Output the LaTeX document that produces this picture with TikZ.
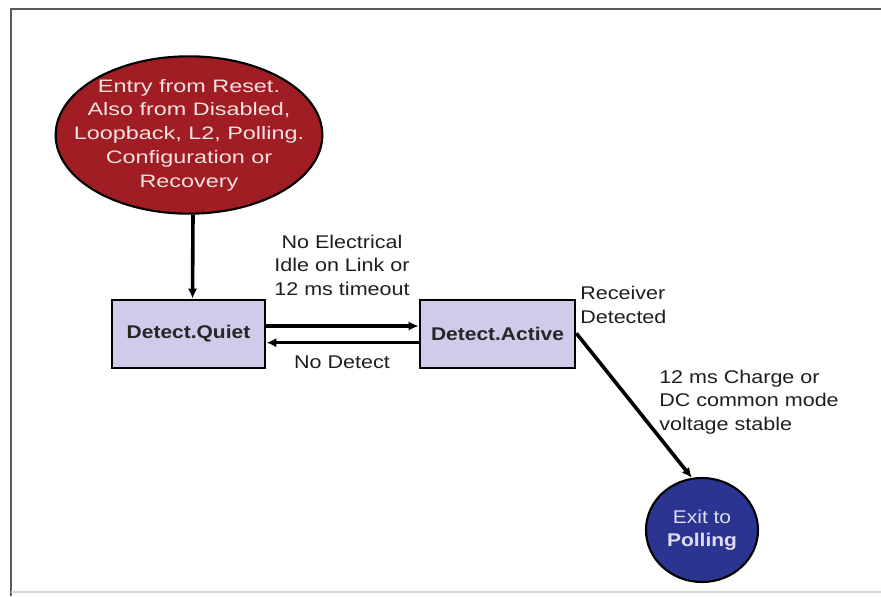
\documentclass[tikz,border=0pt]{standalone}
\usepackage{fontspec}
\setmainfont{Liberation Sans}
\newfontfamily\labelfont[FakeStretch=1.17]{Liberation Sans}
\newfontfamily\entryfont[FakeStretch=1.3]{Liberation Sans}
\newfontfamily\statefont[FakeStretch=1.14]{Liberation Sans}
\usetikzlibrary{shapes.geometric,arrows.meta}
\definecolor{entryred}{HTML}{A01D24}
\definecolor{entrytext}{HTML}{F6E2E2}
\definecolor{statefill}{HTML}{CFCBEA}
\definecolor{exitblue}{HTML}{2B3591}
\definecolor{exittext}{HTML}{DCDCF2}
\definecolor{labeltext}{HTML}{1E1E1E}
\definecolor{framedark}{HTML}{5A5A5A}
\definecolor{framelight}{HTML}{D2D2D2}
\tikzset{
  txt/.style={font=\labelfont\fontsize{13.8}{17.6}\selectfont, text=labeltext, align=center, inner sep=0pt},
  entrynode/.style={ellipse, draw=black, line width=1.6pt, fill=entryred, inner sep=0pt,
    minimum width=200pt, minimum height=118pt},
  entrylabel/.style={text=entrytext, font=\entryfont\fontsize{13.5}{17.8}\selectfont,
    align=center, inner sep=0pt},
  statebox/.style={rectangle, draw=black, line width=2.1pt, fill=statefill,
    font=\statefont\bfseries\fontsize{13.8}{16}\selectfont, text=black!85, inner sep=0pt,
    minimum height=51pt},
  exitnode/.style={ellipse, draw=black, line width=1.6pt, fill=exitblue, text=exittext,
    font=\statefont\fontsize{13.8}{17}\selectfont, align=center, inner sep=0pt,
    minimum width=84pt, minimum height=78pt},
  arr/.style={line width=2.7pt, draw=black, -{Latex[length=7.5pt,width=7pt]}},
}
\begin{document}
\begin{tikzpicture}[x=0.75pt, y=-0.75pt]
  \useasboundingbox (0,0) rectangle (881,596);
  % frame
  \draw[framedark, line width=1.6pt] (11,596) -- (11,9) -- (881,9);
  \draw[framelight, line width=1.2pt] (11,592) -- (881,592);

  % states
  \node[entrynode] (entry) at (189,135) {};
  \node[entrylabel] (entrytxt) at (entry.center)
    {Entry from Reset.\\Also from Disabled,\\Loopback, L2, Polling.\\Configuration or\\Recovery};
  \node[statebox, minimum width=114.75pt] (quiet) at (188.5,334) {Detect.Quiet};
  \node[statebox, minimum width=116.25pt] (active) at (497.5,334) {Detect.Active};
  \node[exitnode] (exit) at (702,530) {Exit to\\\textbf{Polling}};

  % transitions
  \draw[arr] ([xshift=3pt]entry.south) -- ([xshift=3pt]quiet.north);
  \draw[arr] ([yshift=6pt]quiet.east) -- ([yshift=6pt]active.west);
  \draw[arr] ([yshift=-6.5pt]active.west) -- ([yshift=-6.5pt]quiet.east);
  \draw[arr] ([yshift=0.5pt]active.east) -- (exit.101);

  % transition labels
  \node[txt] (lblidle) at (342,265) {No Electrical\\Idle on Link or\\12 ms timeout};
  \node[txt] (lblnodet) at (342,362) {No Detect};
  \node[txt, align=left, anchor=west] (lblrecv) at (580,305) {Receiver\\Detected};
  \node[txt, align=left, anchor=west] (lblcharge) at (659,402) {12 ms Charge or\\DC common mode\\voltage stable};
\end{tikzpicture}
\end{document}
